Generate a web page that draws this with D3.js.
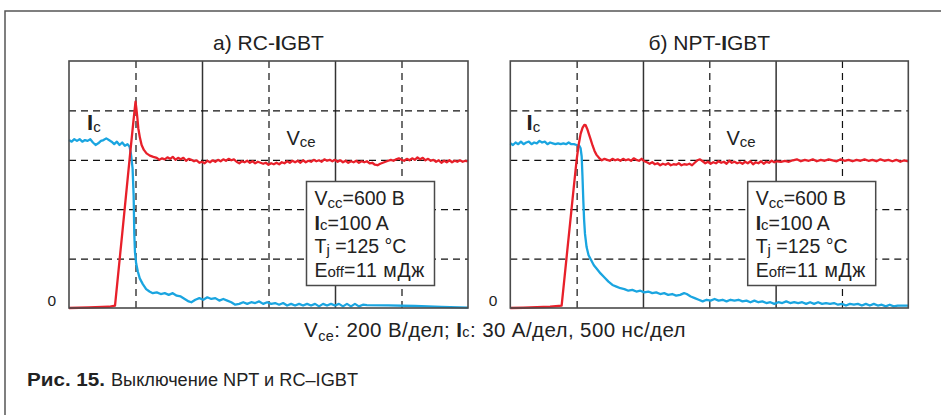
<!DOCTYPE html>
<html><head><meta charset="utf-8">
<script src="https://cdn.jsdelivr.net/npm/d3@7"></script>
<style>
body{margin:0;background:#fff;}
svg{display:block;font-family:"Liberation Sans",Arial,sans-serif;}
</style>
</head><body>
<svg id="c" width="941" height="415"></svg>
<script>
// ---------- data (time in ns, Vce in V, Ic in A) ----------
const panelTitles = [["а) RC-", "I", "GBT"], ["б) NPT-", "I", "GBT"]];
const timeDomain = [0, 3000];     // 500 ns/div, 6 div
const vceDomain = [0, 1000];      // 200 V/div, 5 div
const icDomain = [0, 150];        // 30 A/div, 5 div
const timeGridTicks = [500, 1000, 1500, 2000, 2500];
const vceGridTicks = [200, 400, 600, 800];
const yTickLabels = ["0"];

const rcVce = [[0,0],[150,2],[300,5],[346,10],[400,300],[455,600],[485,760],[500,835],[506,810],[514,770],[521,728],[533,690],[546,660],[563,640],[583,626],[608,617],[634,612],[660,608],
[680,600],[700,606],[720,602],[740,610],[760,604],[780,612],[800,600],[820,608],[840,602],[860,608],[880,596],[900,604],[920,600],[940,594],[960,598],[980,588],[1000,592],[1020,586],[1040,596],[1060,590],[1080,598],[1100,592],[1120,600],[1140,594],[1160,602],[1180,596],[1200,604],[1220,598],[1240,602],[1260,592],[1280,586],[1300,594],[1320,590],[1340,596],[1360,588],[1380,594],[1400,586],[1420,592],[1440,588],[1460,584],[1480,588],[1500,580],[1520,586],[1540,582],[1560,588],[1580,582],[1600,590],[1620,586],[1640,594],[1660,588],[1680,596],[1700,590],[1720,596],[1740,588],[1760,598],[1780,590],[1800,596],[1820,592],[1840,600],[1860,594],[1880,598],[1900,592],[1920,602],[1940,596],[1960,600],[1980,594],[2000,600],[2020,592],[2040,598],[2060,590],[2080,596],[2100,588],[2120,594],[2140,590],[2160,596],[2180,588],[2200,594],[2220,590],[2240,594],[2260,586],[2280,588],[2300,580],[2320,578],[2340,584],[2360,588],[2380,592],[2400,596],[2420,600],[2440,596],[2460,602],[2480,606],[2500,600],[2520,596],[2540,604],[2560,598],[2580,606],[2600,600],[2620,610],[2640,602],[2660,608],[2680,598],[2700,604],[2720,596],[2740,600],[2760,592],[2780,598],[2800,588],[2820,596],[2840,590],[2860,598],[2880,590],[2900,596],[2920,592],[2940,598],[2960,592],[2980,596],[3000,594]];

const rcIc = [[0,102],[20,101],[40,102.5],[60,101.5],[80,102.5],[100,101],[120,102],[140,101.5],[160,102.5],[180,100.5],[200,99],[220,100],[240,101.5],[260,102],[280,103],[300,102],[320,101],[340,99.5],[360,101],[380,99],[400,100.5],[420,98.5],[440,99.5],[455,98],[465,94],[478,85],[486,68],[491,45],[496,34],[505,27],[518,22],[532,18],[555,14.5],[580,11.5],[605,10],[630,9],[660,9.5],[690,8.5],[720,9],[750,8],[780,9],[810,7.5],[840,7],[870,5.5],[900,4],[920,3.5],[950,5],[980,6],[1010,5],[1040,6.5],[1070,5.5],[1100,6],[1130,4.5],[1160,5.5],[1190,4.5],[1220,3.5],[1250,2],[1280,2.5],[1310,3.5],[1340,2.5],[1370,3.5],[1400,3],[1430,4],[1460,2.5],[1490,3.5],[1520,2.5],[1550,3],[1580,2],[1610,3],[1640,1.5],[1670,2.5],[1700,1.5],[1730,2.5],[1760,1.5],[1790,2.5],[1820,1.5],[1850,2.5],[1880,1],[1910,2.5],[1940,1.5],[1970,2.5],[2000,1.5],[2030,2.5],[2060,1],[2090,2.5],[2120,1],[2150,2.5],[2180,1],[2210,2],[2240,1.8],[2400,1.6],[2600,1.2],[2800,0.7],[3000,0.2]];

const nptVce = [[0,0],[100,1],[200,3],[300,5],[387,10],[410,130],[430,235],[450,340],[470,445],[490,548],[500,600],[515,660],[530,705],[545,730],[558,741],[568,740],[580,725],[592,705],[605,684],[620,658],[635,636],[650,620],[670,607],[690,598],[710,604],[730,600],[750,596],[770,604],[790,598],[810,602],[830,596],[850,604],[870,598],[890,602],[910,596],[930,606],[950,600],[970,596],[990,604],[1010,594],[1030,590],[1050,584],[1070,590],[1090,582],[1110,586],[1130,578],[1150,584],[1170,580],[1190,586],[1210,578],[1230,582],[1250,580],[1270,586],[1290,578],[1310,582],[1330,580],[1350,584],[1370,578],[1390,588],[1410,598],[1430,602],[1450,594],[1470,586],[1490,592],[1510,584],[1530,590],[1550,586],[1570,594],[1590,588],[1610,592],[1630,584],[1650,596],[1670,588],[1690,592],[1710,586],[1730,590],[1750,584],[1770,592],[1790,586],[1810,594],[1830,582],[1850,590],[1870,586],[1890,594],[1910,584],[1930,592],[1950,588],[1970,596],[1990,590],[2010,594],[2040,592],[2070,596],[2100,592],[2130,598],[2160,602],[2190,594],[2220,600],[2250,596],[2280,602],[2310,594],[2340,600],[2370,596],[2400,602],[2430,598],[2460,594],[2490,602],[2520,596],[2550,600],[2580,594],[2610,600],[2640,596],[2670,602],[2700,596],[2730,600],[2760,594],[2790,602],[2820,596],[2850,600],[2880,594],[2910,600],[2940,592],[2970,598],[3000,594]];

const nptIc = [[0,100],[20,99],[40,100.5],[60,99.5],[80,101],[100,99.5],[120,100.5],[140,101],[160,99.5],[180,100.5],[200,100],[220,101.5],[240,100.5],[260,101],[280,99.5],[300,100.5],[320,100],[340,99.5],[360,100],[380,99.5],[400,100],[420,99.5],[440,100.5],[460,99.5],[480,99.5],[500,99],[520,98.5],[530,97],[538,92],[544,80],[550,66],[556,54],[563,45],[575,37],[590,32],[610,29],[630,26],[650,24],[680,21],[710,18.5],[740,16],[770,14],[800,13],[830,12],[860,11.5],[890,10.5],[920,11],[950,10],[980,10.5],[1010,9.5],[1040,10],[1070,9],[1100,9.5],[1130,8.5],[1160,9],[1190,8],[1220,8.5],[1250,7.5],[1280,8],[1310,9],[1330,8.5],[1360,7],[1390,6],[1420,5],[1450,4],[1480,5],[1510,4.5],[1540,5.5],[1570,4.5],[1600,5],[1630,4],[1660,5],[1690,4.5],[1720,5],[1750,4],[1780,4.5],[1810,3.5],[1840,4.5],[1870,3.5],[1900,4],[1930,3],[1960,3.5],[1990,2.5],[2020,3.5],[2050,3],[2080,4],[2110,3],[2140,3.5],[2170,3],[2200,3.5],[2230,2.5],[2260,3.5],[2290,2.5],[2320,3.5],[2350,2.5],[2380,3],[2410,2.5],[2440,3],[2470,2],[2500,2.5],[2530,1.5],[2560,2.5],[2590,2],[2620,2.5],[2650,1.5],[2680,2.5],[2710,1.5],[2740,2.5],[2770,1.5],[2800,2],[2830,1],[2860,2],[2890,1],[2920,1.5],[2950,1.5],[3000,1.5]];

const panelSeries = [{vce: rcVce, ic: rcIc}, {vce: nptVce, ic: nptIc}];

// ---------- drawing ----------
const svg = d3.select("#c");
const RED = "#e8202a", BLUE = "#1aa5e0", INK = "#222";

// outer figure frame
svg.append("path").attr("d", "M5,415 L5,11 L941,11")
  .attr("fill", "none").attr("stroke", "#555").attr("stroke-width", 1.5);

const panels = [
  {x: 69, y: 61, w: 399, h: 247, ic: [87, 130], vce: [286.5, 145], box: [306.5, 181.5]},
  {x: 510.3, y: 61, w: 398, h: 247, ic: [526.5, 130], vce: [726.5, 145], box: [747.7, 181.5]}
];

panels.forEach((p, i) => {
  const x = d3.scaleLinear().domain(timeDomain).range([0, p.w]);
  const yV = d3.scaleLinear().domain(vceDomain).range([p.h, 0]);
  const yI = d3.scaleLinear().domain(icDomain).range([p.h, 0]);
  const g = svg.append("g").attr("transform", `translate(${p.x},${p.y})`);

  // title
  const t = svg.append("text").attr("x", p.x + p.w / 2).attr("y", 50)
    .attr("text-anchor", "middle").attr("font-size", 21).attr("fill", INK);
  t.append("tspan").text(panelTitles[i][0]);
  t.append("tspan").attr("font-weight", "bold").text(panelTitles[i][1]);
  t.append("tspan").text(panelTitles[i][2]);

  // vertical grid
  const gx = g.append("g").attr("transform", `translate(0,${p.h})`)
    .call(d3.axisBottom(x).tickValues(timeGridTicks).tickSize(-p.h).tickFormat(""));
  gx.select(".domain").remove();
  gx.selectAll(".tick line")
    .attr("stroke", d => d % 1000 === 0 ? "#333" : "#111")
    .attr("stroke-width", d => d % 1000 === 0 ? 1.5 : 1.2)
    .attr("stroke-dasharray", d => d % 1000 === 0 ? null : "7,5");

  // horizontal grid
  const gy = g.append("g")
    .call(d3.axisLeft(yV).tickValues(vceGridTicks).tickSize(-p.w).tickFormat(""));
  gy.select(".domain").remove();
  gy.selectAll(".tick line").attr("stroke", "#111").attr("stroke-width", 1.2).attr("stroke-dasharray", "7,5");

  // zero label
  const g0 = g.append("g")
    .call(d3.axisLeft(yV).tickValues([0]).tickSize(0).tickPadding(13).tickFormat((d, k) => yTickLabels[k]));
  g0.select(".domain").remove();
  g0.selectAll("text").attr("font-size", 15.5).attr("font-family", "Liberation Sans, Arial, sans-serif")
    .attr("fill", INK).attr("dy", "-0.15em");

  // traces
  const lineI = d3.line().x(d => x(d[0])).y(d => yI(d[1]));
  const lineV = d3.line().x(d => x(d[0])).y(d => yV(d[1]));
  g.append("path").datum(panelSeries[i].ic).attr("d", lineI)
    .attr("fill", "none").attr("stroke", BLUE).attr("stroke-width", 2.3).attr("stroke-linejoin", "round");
  g.append("path").datum(panelSeries[i].vce).attr("d", lineV)
    .attr("fill", "none").attr("stroke", RED).attr("stroke-width", 2.3).attr("stroke-linejoin", "round");

  // frame
  g.append("rect").attr("width", p.w).attr("height", p.h)
    .attr("fill", "none").attr("stroke", "#4a4a4a").attr("stroke-width", 1.6);

  // Ic label
  const ti = svg.append("text").attr("x", p.ic[0]).attr("y", p.ic[1]).attr("fill", INK);
  ti.append("tspan").attr("font-size", 22).attr("font-weight", "bold").text("I");
  ti.append("tspan").attr("font-size", 15).attr("dy", 2).text("c");

  // Vce label
  const tv = svg.append("text").attr("x", p.vce[0]).attr("y", p.vce[1]).attr("fill", INK);
  tv.append("tspan").attr("font-size", 20).text("V");
  tv.append("tspan").attr("font-size", 15).attr("dy", 2).text("ce");

  // info box
  svg.append("rect").attr("x", p.box[0]).attr("y", p.box[1]).attr("width", 128).attr("height", 104)
    .attr("fill", "#fff").attr("stroke", "#4a4a4a").attr("stroke-width", 1.5);
  const bx = p.box[0] + 8, by = p.box[1] + 23.5, fs = 19.5, sfs = 15;
  const l1 = svg.append("text").attr("x", bx).attr("y", by).attr("font-size", fs).attr("fill", INK);
  l1.append("tspan").text("V");
  l1.append("tspan").attr("font-size", sfs).attr("dy", 3).text("cc");
  l1.append("tspan").attr("dy", -3).text("=600 В");
  const l2 = svg.append("text").attr("x", bx).attr("y", by + 24.5).attr("font-size", fs).attr("fill", INK);
  l2.append("tspan").attr("font-weight", "bold").text("I");
  l2.append("tspan").attr("font-size", sfs).text("c");
  l2.append("tspan").text("=100 A");
  const l3 = svg.append("text").attr("x", bx).attr("y", by + 47.5).attr("font-size", fs).attr("fill", INK);
  l3.append("tspan").text("T");
  l3.append("tspan").attr("font-size", sfs).attr("dy", 2).text("j");
  l3.append("tspan").attr("dy", -2).text(" =125 °C");
  const l4 = svg.append("text").attr("x", bx).attr("y", by + 71.5).attr("font-size", fs).attr("fill", INK);
  l4.append("tspan").text("E");
  l4.append("tspan").attr("font-size", sfs).text("off");
  l4.append("tspan").attr("letter-spacing", 0.6).text("=11 мДж");
});

// bottom scale caption
const cap = svg.append("text").attr("x", 495).attr("y", 337).attr("text-anchor", "middle")
  .attr("font-size", 20.5).attr("letter-spacing", 0.4).attr("fill", INK);
cap.append("tspan").text("V");
cap.append("tspan").attr("font-size", 14.5).attr("dy", 4).text("ce");
cap.append("tspan").attr("dy", -4).text(": 200 В/дел; ");
cap.append("tspan").attr("font-weight", "bold").text("I");
cap.append("tspan").attr("font-size", 14.5).text("c");
cap.append("tspan").text(": 30 А/дел, 500 нс/дел");

// figure caption
svg.append("text").attr("x", 27).attr("y", 386).attr("font-size", 17.5).attr("font-weight", "bold")
  .attr("fill", "#222").attr("textLength", 78).attr("lengthAdjust", "spacingAndGlyphs").text("Рис. 15.");
svg.append("text").attr("x", 111).attr("y", 386).attr("font-size", 17.5)
  .attr("fill", "#222").attr("textLength", 247).attr("lengthAdjust", "spacingAndGlyphs").text("Выключение NPT и RC–IGBT");
</script>
</body></html>
